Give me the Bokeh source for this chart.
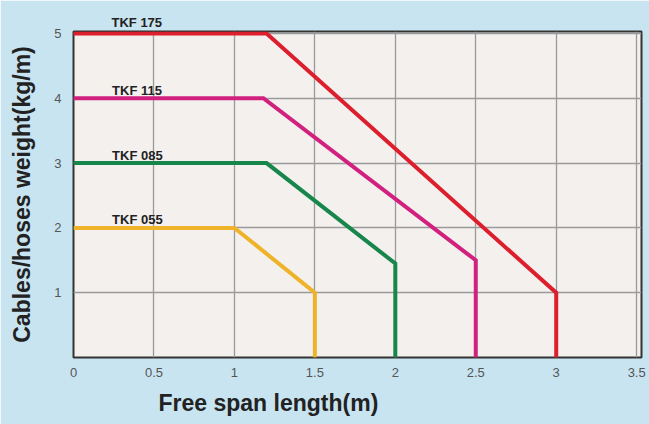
from bokeh.plotting import figure
from bokeh.models import Range1d, FixedTicker, Label, Title
from bokeh.embed import file_html
from bokeh.resources import INLINE

# ---- data ----
series_names = ["TKF 175", "TKF 115", "TKF 085", "TKF 055"]
x_175 = [0, 1.2, 3.0, 3.0]
y_175 = [5, 5, 1.0, 0]
x_115 = [0, 1.18, 2.5, 2.5]
y_115 = [4, 4, 1.5, 0]
x_085 = [0, 1.2, 2.0, 2.0]
y_085 = [3, 3, 1.45, 0]
x_055 = [0, 1.0, 1.5, 1.5]
y_055 = [2, 2, 1.0, 0]
series_colors = ["#dc1e2d", "#d2207f", "#17864a", "#efb32a"]
label_x = 0.24

x_ticks = [0, 0.5, 1, 1.5, 2, 2.5, 3, 3.5]
x_tick_labels = ["0", "0.5", "1", "1.5", "2", "2.5", "3", "3.5"]
y_ticks = [1, 2, 3, 4, 5]
y_tick_labels = ["1", "2", "3", "4", "5"]
x_title = "Free span length(m)"
y_title = "Cables/hoses weight(kg/m)"

p = figure(width=649, height=424, output_backend="svg", toolbar_location=None,
           x_range=Range1d(0, 3.53), y_range=Range1d(0, 5.03),
           min_border_left=73, min_border_right=8, min_border_top=31, min_border_bottom=66)

p.border_fill_color = "#c8e4f1"
p.background_fill_color = "#f3f0ee"
p.outline_line_color = "#333333"
p.outline_line_width = 2

FONT = "Liberation Sans"
series = [(x_175, y_175), (x_115, y_115), (x_085, y_085), (x_055, y_055)]
for i, ((xs, ys), name, col) in enumerate(zip(series, series_names, series_colors)):
    p.line(xs, ys, line_color=col, line_width=4, line_join="miter")
    if i == 0:
        # top series label sits above the frame: use a title annotation
        p.add_layout(Title(text=name, align="left", offset=38, standoff=4,
                           text_font=FONT, text_font_style="bold",
                           text_font_size="13px", text_color="#222222"), "above")
    else:
        p.add_layout(Label(x=label_x, y=ys[0], text=name, y_offset=8,
                           text_font=FONT, text_font_style="bold",
                           text_font_size="13px", text_color="#222222",
                           text_baseline="alphabetic", text_align="left"))

for ax, ticks, labels in [(p.xaxis[0], x_ticks, x_tick_labels), (p.yaxis[0], y_ticks, y_tick_labels)]:
    ax.ticker = FixedTicker(ticks=ticks)
    ax.major_label_overrides = {t: l for t, l in zip(ticks, labels)}
    ax.major_tick_line_color = None
    ax.minor_tick_line_color = None
    ax.axis_line_color = None
    ax.major_label_text_font = FONT
    ax.major_label_text_font_size = "13px"
    ax.major_label_text_color = "#555555"

p.xaxis.major_label_standoff = 4
p.yaxis.major_label_standoff = 6

p.yaxis.axis_label = y_title
p.yaxis.axis_label_text_font = FONT
p.yaxis.axis_label_text_font_style = "bold"
p.yaxis.axis_label_text_font_size = "23px"
p.yaxis.axis_label_text_color = "#222222"
p.yaxis.axis_label_standoff = 16

p.add_layout(Title(text=x_title, align="left", offset=85, standoff=17,
                   text_font=FONT, text_font_style="bold",
                   text_font_size="23px", text_color="#222222"), "below")

p.xgrid.ticker = FixedTicker(ticks=x_ticks)
p.ygrid.ticker = FixedTicker(ticks=y_ticks)
p.grid.grid_line_color = "#9a9a9a"
p.grid.grid_line_width = 1.3

open("out.html", "w").write(file_html(p, INLINE))
